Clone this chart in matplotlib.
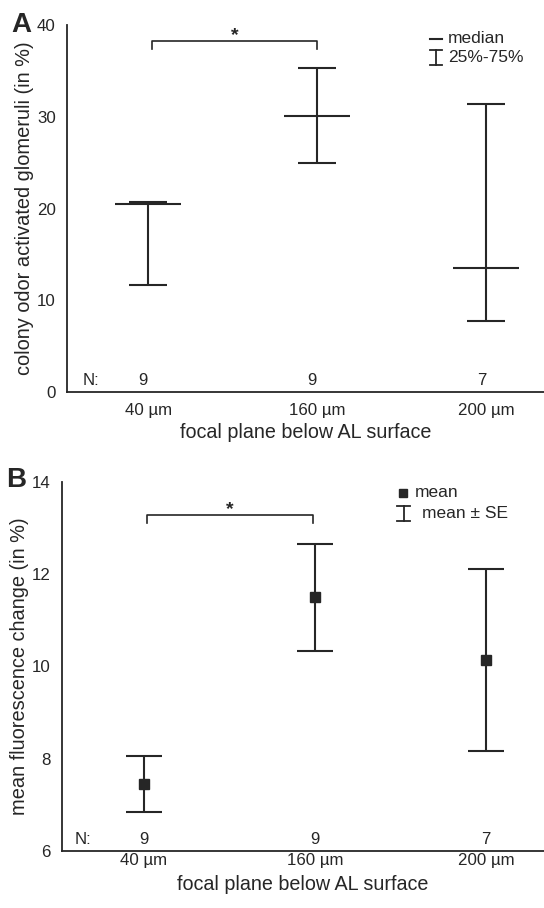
import matplotlib
matplotlib.use("Agg")
import matplotlib.pyplot as plt

plt.rcParams['font.family'] = ['Liberation Sans', 'DejaVu Sans']

categories = ["40 µm", "160 µm", "200 µm"]
n_values = ["9", "9", "7"]

# Panel A: median and quartiles
a_median = [20.5, 30.1, 13.5]
a_q25 = [11.7, 25.0, 7.8]
a_q75 = [20.7, 35.3, 31.4]

# Panel B: mean and SE bounds
b_mean = [7.44, 11.49, 10.14]
b_low = [6.84, 10.32, 8.17]
b_high = [8.06, 12.65, 12.11]

INK = '#262626'
fig = plt.figure(figsize=(5.44, 9.08), dpi=100)
axA = fig.add_axes([0.123, 0.568, 0.877, 0.4045])
axB = fig.add_axes([0.114, 0.063, 0.886, 0.4065])

x = list(range(len(categories)))

def style(ax, ylim, yticks, ylabel, xpad, xlabelpad):
    ax.set_xlim(-0.48, 2.34)
    ax.set_ylim(*ylim)
    ax.set_yticks(yticks)
    ax.set_xticks(x)
    ax.set_xticklabels(categories)
    for s in ['top', 'right']:
        ax.spines[s].set_visible(False)
    for s in ['left', 'bottom']:
        ax.spines[s].set_color(INK)
        ax.spines[s].set_linewidth(1.3)
    ax.tick_params(axis='both', length=0, labelsize=12.2, colors=INK)
    ax.tick_params(axis='y', pad=8)
    ax.tick_params(axis='x', pad=xpad)
    ax.set_xlabel("focal plane below AL surface", fontsize=14.2, color=INK, labelpad=xlabelpad)
    ax.set_ylabel(ylabel, fontsize=14.4, color=INK, labelpad=2)

# ---- Panel A
yerrA = [[m - l for m, l in zip(a_median, a_q25)], [h - m for m, h in zip(a_median, a_q75)]]
axA.errorbar(x, a_median, yerr=yerrA, fmt='none', ecolor=INK, elinewidth=1.5,
             capsize=14, capthick=1.5)
axA.plot(x, a_median, linestyle='none', marker='_', markersize=48,
         markeredgewidth=1.5, color=INK)
style(axA, (0, 40), [0, 10, 20, 30, 40], "colony odor activated glomeruli (in %)", 8, 3.5)

# significance bracket A
axA.plot([0.02, 0.02, 1.0, 1.0], [37.4, 38.2, 38.2, 37.4], color=INK, lw=1.2)
axA.text(0.51, 37.9, "*", ha='center', va='bottom', fontsize=14, color=INK, fontweight='bold')
# N labels
axA.text(-0.34, 1.3, "N:", ha='center', va='center', fontsize=12.2, color=INK)
for xi, n in zip(x, n_values):
    axA.text(xi - 0.03, 1.3, n, ha='center', va='center', fontsize=12.2, color=INK)
# legend A
axA.plot([0.762, 0.787], [0.962, 0.962], transform=axA.transAxes, color=INK, lw=1.5)
axA.text(0.799, 0.962, "median", transform=axA.transAxes, va='center', fontsize=12.5, color=INK)
axA.plot([0.774, 0.774], [0.892, 0.932], transform=axA.transAxes, color=INK, lw=1.3)
axA.plot([0.762, 0.786], [0.892, 0.892], transform=axA.transAxes, color=INK, lw=1.3)
axA.plot([0.762, 0.786], [0.932, 0.932], transform=axA.transAxes, color=INK, lw=1.3)
axA.text(0.799, 0.912, "25%-75%", transform=axA.transAxes, va='center', fontsize=12.5, color=INK)
fig.text(0.04, 0.972, "A", fontsize=20, fontweight='bold', color=INK, ha='center', va='center')

# ---- Panel B
yerrB = [[m - l for m, l in zip(b_mean, b_low)], [h - m for m, h in zip(b_mean, b_high)]]
axB.errorbar(x, b_mean, yerr=yerrB, fmt='s', color=INK, markersize=7, ecolor=INK,
             elinewidth=1.5, capsize=13, capthick=1.5)
style(axB, (6, 14), [6, 8, 10, 12, 14], "mean fluorescence change (in %)", 1.6, 5)

axB.plot([0.02, 0.02, 0.99, 0.99], [13.11, 13.27, 13.27, 13.11], color=INK, lw=1.2)
axB.text(0.50, 13.22, "*", ha='center', va='bottom', fontsize=14, color=INK, fontweight='bold')
axB.text(-0.36, 6.25, "N:", ha='center', va='center', fontsize=12.2, color=INK)
for xi, n in zip(x, n_values):
    axB.text(xi + 0.0, 6.25, n, ha='center', va='center', fontsize=12.2, color=INK)
axB.plot([0.708], [0.97], transform=axB.transAxes, marker='s', markersize=6,
         color=INK, linestyle='none')
axB.text(0.732, 0.97, "mean", transform=axB.transAxes, va='center', fontsize=12.5, color=INK)
axB.plot([0.7085, 0.7085], [0.893, 0.933], transform=axB.transAxes, color=INK, lw=1.3)
axB.plot([0.696, 0.721], [0.893, 0.893], transform=axB.transAxes, color=INK, lw=1.3)
axB.plot([0.696, 0.721], [0.933, 0.933], transform=axB.transAxes, color=INK, lw=1.3)
axB.text(0.746, 0.913, "mean ± SE", transform=axB.transAxes, va='center', fontsize=12.5, color=INK)
fig.text(0.03, 0.471, "B", fontsize=20, fontweight='bold', color=INK, ha='center', va='center')

fig.savefig("out.png", dpi=100)
